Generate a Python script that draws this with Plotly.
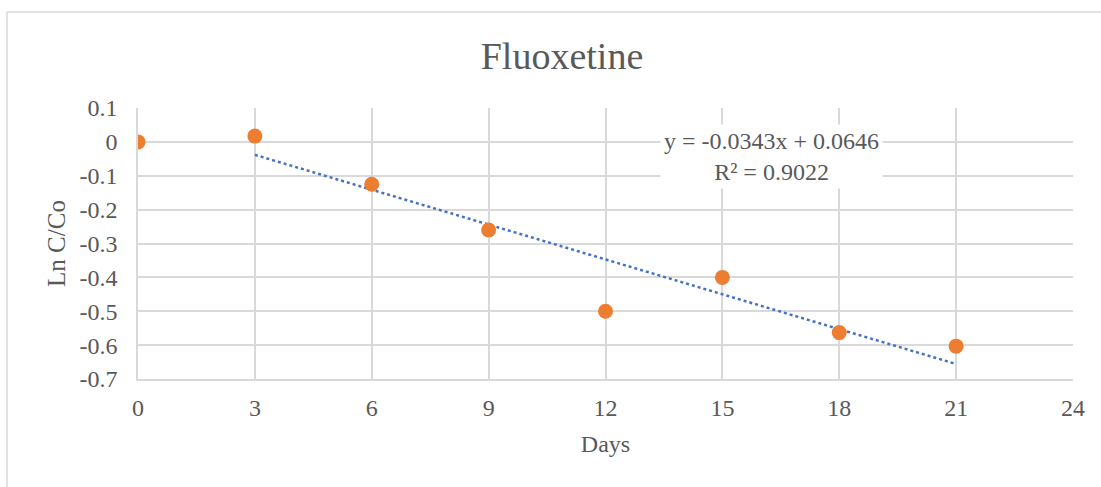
import plotly.graph_objects as go

days = [0, 3, 6, 9, 12, 15, 18, 21]
ln_c_co = [0.0, 0.017, -0.125, -0.26, -0.5, -0.4, -0.563, -0.603]
slope = -0.0343
intercept = 0.0646
r2 = 0.9022
trend_x = [3, 21]
x_ticks = [0, 3, 6, 9, 12, 15, 18, 21, 24]
y_ticks = [0.1, 0, -0.1, -0.2, -0.3, -0.4, -0.5, -0.6, -0.7]

FONT = "Liberation Serif, Times New Roman, serif"
GRAY = "#595959"
GRID = "#d9d9d9"

fig = go.Figure()
fig.add_trace(go.Scatter(
    x=trend_x, y=[slope * x + intercept for x in trend_x],
    mode="lines", line=dict(color="#4472C4", width=2.5, dash="dot"),
    showlegend=False, hoverinfo="skip"))
fig.add_trace(go.Scatter(
    x=days, y=ln_c_co, mode="markers",
    marker=dict(color="#ED7D31", size=15, line=dict(width=0)),
    showlegend=False))

fig.update_layout(
    width=1101, height=487,
    margin=dict(l=138, r=28, t=108, b=108),
    paper_bgcolor="white", plot_bgcolor="white",
    font=dict(family=FONT, color=GRAY, size=24),
    title=dict(text="Fluoxetine", x=562 / 1101, xanchor="center", y=1 - 56 / 487, yanchor="middle",
               font=dict(family=FONT, size=38, color=GRAY)),
    xaxis=dict(range=[0, 24], tickvals=x_ticks, ticktext=[str(v) for v in x_ticks],
               showgrid=True, gridcolor=GRID, gridwidth=1.5,
               showline=True, linecolor=GRID, linewidth=1.5, mirror=False,
               zeroline=False, ticks="", ticklabelstandoff=6,
               tickfont=dict(family=FONT, size=24, color=GRAY),
               title=dict(text="Days", font=dict(family=FONT, size=24, color=GRAY), standoff=16)),
    yaxis=dict(range=[-0.7, 0.1], tickvals=y_ticks,
               ticktext=["0.1", "0", "-0.1", "-0.2", "-0.3", "-0.4", "-0.5", "-0.6", "-0.7"],
               showgrid=True, gridcolor=GRID, gridwidth=1.5,
               showline=True, linecolor=GRID, linewidth=1.5,
               zeroline=False, ticks="", ticklabelstandoff=14,
               tickfont=dict(family=FONT, size=24, color=GRAY),
               title=dict(text="Ln C/Co", font=dict(family=FONT, size=25, color=GRAY), standoff=7)),
)

# equation label
fig.add_annotation(
    xref="paper", yref="paper", x=(771 - 138) / 935, y=(379 - 156) / 271,
    text=f"y = {slope}x + {intercept}<br>R² = {r2}",
    showarrow=False, align="center", xanchor="center", yanchor="middle",
    font=dict(family=FONT, size=24, color=GRAY),
    bgcolor="white", borderpad=3)

# outer chart frame (clipped by the image)
fx = (7 - 138) / 935
fy = (379 - 12) / 271
fig.add_shape(type="line", xref="paper", yref="paper", x0=fx, x1=1.2, y0=fy, y1=fy,
              line=dict(color=GRID, width=1.5))
fig.add_shape(type="line", xref="paper", yref="paper", x0=fx, x1=fx, y0=fy, y1=-0.6,
              line=dict(color=GRID, width=1.5))

fig.write_html("out.html", config={"displayModeBar": False},
               post_script="document.body.style.margin='0';document.body.style.overflow='hidden';")
